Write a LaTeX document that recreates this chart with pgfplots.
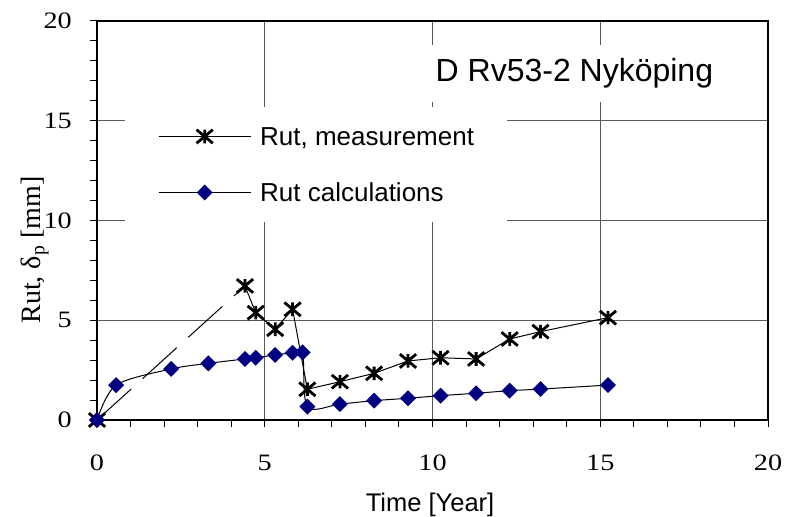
\documentclass[border=0pt]{standalone}
\usepackage{fontspec}
\setmainfont{Liberation Sans}
\newfontfamily\tnr{Liberation Serif}
\newfontfamily\tnrwide[FakeStretch=1.2]{Liberation Serif}
\usepackage{pgfplots}
\pgfplotsset{compat=1.18}
\definecolor{navy}{RGB}{0,0,128}

% filled square diamond
\pgfdeclareplotmark{rdiamond}{%
  \pgfpathmoveto{\pgfqpoint{0pt}{\pgfplotmarksize}}%
  \pgfpathlineto{\pgfqpoint{\pgfplotmarksize}{0pt}}%
  \pgfpathlineto{\pgfqpoint{0pt}{-\pgfplotmarksize}}%
  \pgfpathlineto{\pgfqpoint{-\pgfplotmarksize}{0pt}}%
  \pgfpathclose
  \pgfusepathqfillstroke}
% X with a vertical bar
\pgfdeclareplotmark{xstar}{%
  \pgfpathmoveto{\pgfqpoint{-1.2\pgfplotmarksize}{-\pgfplotmarksize}}%
  \pgfpathlineto{\pgfqpoint{1.2\pgfplotmarksize}{\pgfplotmarksize}}%
  \pgfpathmoveto{\pgfqpoint{-1.2\pgfplotmarksize}{\pgfplotmarksize}}%
  \pgfpathlineto{\pgfqpoint{1.2\pgfplotmarksize}{-\pgfplotmarksize}}%
  \pgfpathmoveto{\pgfqpoint{0pt}{-\pgfplotmarksize}}%
  \pgfpathlineto{\pgfqpoint{0pt}{\pgfplotmarksize}}%
  \pgfusepathqstroke}

\begin{document}
\begin{tikzpicture}
\path[use as bounding box] (-97bp,-97bp) rectangle (692bp,420bp);
\begin{axis}[
  scale only axis, width=671bp, height=399bp,
  xmin=0, xmax=20, ymin=0, ymax=20,
  xtick={0,5,...,20}, ytick={0,5,...,20},
  minor x tick num=4, minor y tick num=4,
  xtick pos=bottom, ytick pos=left,
  tick align=outside,
  major tick length=7bp, minor tick length=7bp,
  tick style={black, line width=1bp},
  grid=major,
  major grid style={black!65, line width=1bp},
  axis line style={black, line width=1.3bp},
  clip=false,
  /pgf/number format/assume math mode=true,
  ticklabel style={font=\tnrwide\fontsize{23.5bp}{28bp}\selectfont},
  xticklabel style={anchor=north, inner sep=0pt, yshift=-27.5bp},
  yticklabel style={anchor=east, inner sep=0pt, xshift=-18bp},
  xlabel={Time [Year]},
  every axis x label/.style={at={(rel axis cs:0.4963,0)}, anchor=base, yshift=-91.5bp,
    font=\fontsize{25.5bp}{30bp}\selectfont},
  ylabel={Rut, δ\textsubscript{p} [mm]},
  every axis y label/.style={at={(rel axis cs:-0.0839,0.426)}, rotate=90, anchor=base,
    font=\tnr\fontsize{28bp}{32bp}\selectfont},
  legend style={at={(rel axis cs:0.0417,0.7845)}, anchor=north west, draw=none, fill=white,
    inner xsep=33bp, inner ysep=20bp, row sep=37.4bp, column sep=9bp,
    font=\fontsize{26bp}{30bp}\selectfont,
    nodes={inner sep=0pt, text height=18.6bp, text depth=0pt}, cells={anchor=west}},
  legend image code/.code={%
    \draw[mark repeat=2, mark phase=2, #1] plot coordinates {(0bp,0bp) (46bp,0bp) (92bp,0bp)};},
]

% measured rut: first interval drawn dashed
\addplot[black, line width=1bp, dash pattern=on 46bp off 15.6bp, forget plot]
  coordinates {(0,0) (4.41,6.72)};
\addplot[only marks, mark=xstar, mark size=6.8bp, mark options={solid, black, line width=2.8bp}, forget plot]
  coordinates {(0,0)};
\addplot[black, line width=1bp, mark=xstar, mark size=6.8bp, mark options={solid, black, line width=2.8bp}]
  coordinates {(4.41,6.72) (4.73,5.38) (5.31,4.55) (5.83,5.55) (6.27,1.54) (7.24,1.92)
               (8.26,2.34) (9.27,2.96) (10.24,3.12) (11.30,3.06) (12.30,4.06) (13.22,4.43) (15.23,5.13)};
\addlegendentry{Rut, measurement}

% calculated rut
\addplot[black, line width=1bp, smooth, mark=rdiamond, mark size=7.8bp,
         mark options={fill=navy, draw=navy, line width=0.1bp}]
  coordinates {(0,0) (0.57,1.75) (2.21,2.56) (3.32,2.84) (4.41,3.06) (4.73,3.12) (5.31,3.26)
               (5.83,3.37) (6.13,3.39) (6.27,0.67) (7.24,0.80) (8.26,0.97) (9.27,1.09)
               (10.24,1.22) (11.30,1.34) (12.30,1.47) (13.22,1.55) (15.23,1.75)};
\addlegendentry{Rut calculations}

\node[fill=white, inner xsep=12bp, inner ysep=0pt, text height=36.7bp, text depth=20bp,
      anchor=base, font=\fontsize{32bp}{38bp}\selectfont]
  at (axis cs:14.23,16.96) {D Rv53-2 Nyköping};
\end{axis}
\end{tikzpicture}
\end{document}
